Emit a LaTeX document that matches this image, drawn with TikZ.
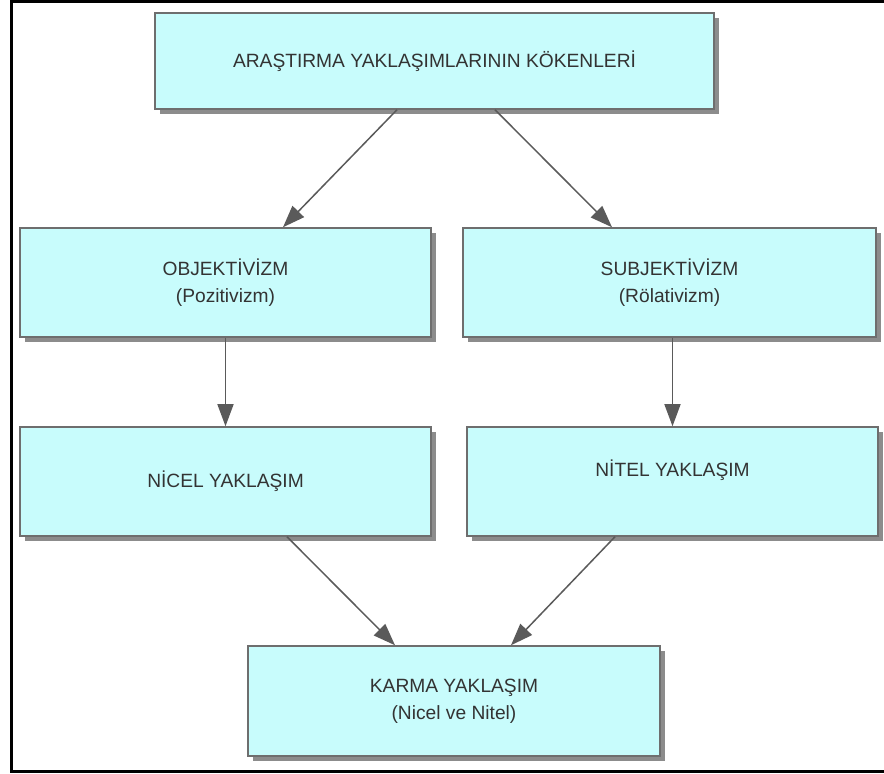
\documentclass[tikz,border=0pt]{standalone}
\usepackage{fontspec}
\setmainfont{Liberation Sans}
\usetikzlibrary{arrows.meta,shadows}
\definecolor{kutudolgu}{HTML}{C8FCFC}
\definecolor{kutucizgi}{HTML}{6E6E6E}
\definecolor{okgri}{HTML}{5A5A5A}
\definecolor{yazigri}{HTML}{333333}

\begin{document}
\begin{tikzpicture}[x=0.5pt,y=-0.5pt,
    kutu/.style={draw=kutucizgi, line width=0.75pt, fill=kutudolgu, text=yazigri, align=center, inner sep=0pt,
      font=\fontsize{9.6}{13.5}\selectfont,
      drop shadow={shadow xshift=2.5pt, shadow yshift=-2.5pt, fill=black!45, opacity=1}},
    ok/.style={draw=okgri, line width=0.75pt, -{Triangle[length=11pt,width=8pt]}}]

	\useasboundingbox (0,0) rectangle (884,774);
	\draw[line width=1.5pt] (884,1.5) -- (11,1.5) -- (11,771.5) -- (884,771.5);

	\node[kutu, minimum width=279.5pt, minimum height=48pt] (koken) at (434.5,61) {ARAŞTIRMA YAKLAŞIMLARININ KÖKENLERİ};
	\node[kutu, minimum width=205.5pt, minimum height=54.5pt] (objektif) at (225.5,282.5) {OBJEKTİVİZM\\(Pozitivizm)};
	\node[kutu, minimum width=206.5pt, minimum height=54.5pt] (subjektif) at (669.5,282.5) {SUBJEKTİVİZM\\(Rölativizm)};
	\node[kutu, minimum width=205.5pt, minimum height=54.5pt] (nicel) at (225.5,481.5) {NİCEL YAKLAŞIM};
	\node[kutu, minimum width=205.5pt, minimum height=54.5pt, text depth=13.5pt] (nitel) at (672.5,481.5) {NİTEL YAKLAŞIM};
	\node[kutu, minimum width=206pt, minimum height=55pt] (karma) at (454,701) {KARMA YAKLAŞIM\\(Nicel ve Nitel)};

	\draw[ok] ([xshift=-18.75pt]koken.south) -- ([xshift=28.75pt]objektif.north);
	\draw[ok] ([xshift=30.25pt]koken.south) -- ([xshift=-28.75pt]subjektif.north);
	\draw[ok] (objektif) -- (nicel);
	\draw[ok] (subjektif.south -| nitel.north) -- (nitel.north);
	\draw[ok] ([xshift=30.75pt]nicel.south) -- ([xshift=-29.5pt]karma.north);
	\draw[ok] ([xshift=-28.75pt]nitel.south) -- ([xshift=28.5pt]karma.north);
\end{tikzpicture}
\end{document}
